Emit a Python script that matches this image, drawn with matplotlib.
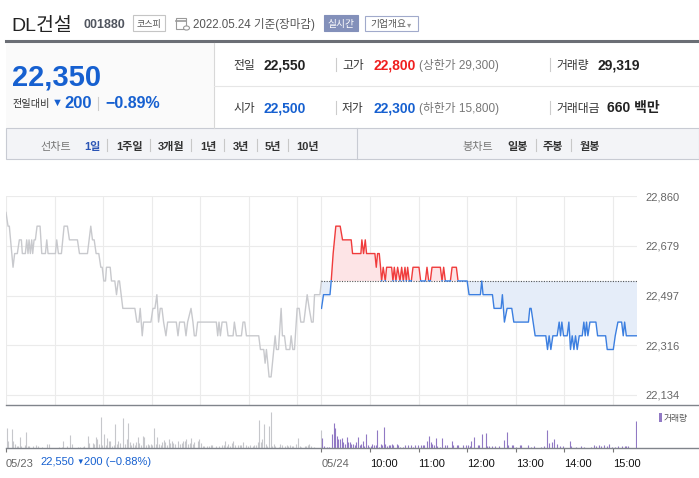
import matplotlib
matplotlib.use('Agg')
import matplotlib.pyplot as plt
import numpy as np
from matplotlib.patches import Rectangle, Circle
from matplotlib.lines import Line2D

plt.rcParams['font.family'] = ['Liberation Sans', 'Noto Sans CJK KR', 'DejaVu Sans']

W, H = 699, 478

# ---- data ----
price_ticks = [22134, 22316, 22497, 22679, 22860]
prev_close = 22550
session = 390  # minutes 09:00 - 15:30

# 05/23 : minutes after 09:00, price
day1_min = [0, 2.5, 4.1, 8.7, 10.7, 14.0, 16.5, 19.0, 20.2, 23.9, 25.6, 27.2, 28.5, 30.1,
            31.8, 33.0, 34.7, 36.3, 38.4, 42.1, 44.2, 48.7, 50.4, 52.0, 61.1, 62.7, 64.8,
            68.5, 71.8, 75.9, 78.4, 88.3, 90.8, 100.7, 104.8, 106.9, 109.0, 111.4, 114.7,
            117.2, 118.9, 120.9, 123.0, 124.2, 128.8, 130.4, 134.5, 136.6, 138.7, 140.3,
            144.4, 159.3, 161.8, 164.3, 165.9, 168.4, 170.0, 179.1, 181.6, 184.1, 186.5,
            188.6, 190.7, 192.8, 194.8, 197.7, 199.8, 210.5, 212.6, 214.6, 220.4, 222.5,
            224.5, 228.7, 231.1, 232.8, 234.9, 236.9, 260.0, 261.7, 263.3, 265.0, 267.1,
            272.4, 274.5, 280.7, 282.3, 284.8, 291.0, 293.0, 295.1, 297.2, 312.4, 314.5,
            318.6, 320.3, 321.9, 323.6, 325.2, 327.7, 332.7, 334.3, 336.8, 340.1, 341.7,
            344.2, 346.3, 350.8, 352.5, 354.5, 356.6, 359.9, 362.4, 364.4, 368.2, 372.3,
            374.8, 377.7, 379.7, 381.4, 388.0, 390.0]
day1_price = [22800, 22750, 22750, 22600, 22650, 22650, 22700, 22700, 22650, 22650, 22700,
              22650, 22700, 22650, 22700, 22650, 22700, 22700, 22750, 22750, 22650, 22650,
              22700, 22650, 22650, 22700, 22650, 22650, 22750, 22750, 22700, 22700, 22650,
              22650, 22750, 22700, 22700, 22650, 22650, 22600, 22600, 22550, 22550, 22600,
              22600, 22550, 22550, 22500, 22550, 22550, 22450, 22450, 22400, 22400, 22450,
              22350, 22400, 22400, 22450, 22450, 22500, 22400, 22450, 22450, 22400, 22350,
              22400, 22400, 22350, 22400, 22400, 22350, 22400, 22450, 22400, 22350, 22350,
              22400, 22400, 22350, 22400, 22350, 22400, 22400, 22350, 22350, 22400, 22350,
              22350, 22400, 22400, 22350, 22350, 22300, 22300, 22250, 22300, 22250, 22200,
              22200, 22350, 22300, 22300, 22450, 22350, 22350, 22300, 22300, 22350, 22300,
              22300, 22450, 22450, 22400, 22400, 22500, 22450, 22400, 22400, 22500, 22500,
              22550]

# 05/24 : minutes after 09:00, price
day2_min = [0, 2.5, 10.5, 12.0, 14.4, 17.7, 23.1, 26.0, 36.7, 38.4, 48.7, 49.9, 52.0, 54.1,
            55.7, 66.0, 67.7, 69.3, 71.4, 73.0, 74.3, 76.3, 78.8, 80.5, 86.7, 88.3, 90.0,
            92.0, 94.1, 97.0, 99.1, 101.1, 103.2, 104.8, 106.5, 108.5, 111.0, 113.1, 120.5,
            122.6, 128.4, 130.4, 132.5, 134.5, 136.6, 146.9, 149.0, 151.0, 153.1, 159.3,
            161.4, 166.7, 168.8, 180.0, 182.4, 196.4, 198.1, 199.7, 211.3, 213.3, 222.0,
            223.6, 226.1, 229.4, 235.2, 237.7, 255.8, 257.5, 259.1, 261.6, 264.1, 277.3,
            279.4, 281.4, 283.5, 286.0, 291.3, 293.8, 295.5, 297.1, 299.2, 303.7, 305.8,
            307.8, 309.9, 312.0, 314.0, 316.1, 318.6, 322.3, 324.3, 326.0, 327.6, 329.3,
            331.8, 339.2, 341.3, 351.2, 353.2, 360.7, 363.1, 366.4, 371.0, 373.0, 374.7,
            376.8, 390.0]
day2_price = [22450, 22500, 22500, 22550, 22650, 22750, 22750, 22700, 22700, 22650, 22650,
              22700, 22650, 22700, 22650, 22650, 22600, 22650, 22650, 22600, 22550, 22600,
              22550, 22600, 22600, 22550, 22600, 22550, 22600, 22550, 22600, 22550, 22600,
              22550, 22600, 22550, 22550, 22600, 22600, 22550, 22550, 22600, 22550, 22550,
              22600, 22600, 22550, 22600, 22550, 22550, 22600, 22600, 22550, 22550, 22500,
              22500, 22550, 22500, 22500, 22450, 22450, 22500, 22400, 22450, 22450, 22400,
              22400, 22450, 22450, 22400, 22350, 22350, 22300, 22350, 22300, 22350, 22350,
              22400, 22350, 22400, 22350, 22350, 22400, 22300, 22350, 22300, 22350, 22300,
              22350, 22350, 22400, 22350, 22400, 22350, 22400, 22400, 22350, 22350, 22300,
              22300, 22350, 22400, 22400, 22350, 22400, 22350, 22350]

# volume per 2-minute bar (195 bars a day)
day1_vol = [
    800, 290, 0, 770, 270, 160, 90, 90, 450, 80,
    0, 120, 650, 90, 90, 0, 80, 0, 120, 70,
    0, 0, 50, 0, 0, 170, 150, 0, 0, 0,
    0, 0, 50, 0, 50, 290, 0, 80, 0, 530,
    170, 0, 0, 0, 50, 50, 0, 50, 80, 0,
    490, 190, 0, 210, 160, 450, 360, 170, 1240, 120,
    550, 110, 410, 290, 270, 90, 110, 970, 150, 290,
    190, 0, 1200, 170, 360, 1010, 240, 120, 190, 120,
    240, 450, 190, 120, 490, 450, 120, 170, 110, 160,
    120, 810, 160, 450, 170, 120, 230, 320, 240, 120,
    350, 190, 280, 190, 170, 0, 290, 170, 200, 290,
    290, 350, 150, 190, 410, 160, 230, 0, 290, 370,
    190, 80, 80, 0, 90, 80, 120, 130, 0, 80,
    0, 90, 0, 110, 110, 290, 80, 150, 90, 190,
    270, 120, 0, 130, 120, 130, 230, 0, 120, 80,
    120, 0, 70, 110, 130, 240, 1130, 250, 350, 970,
    160, 80, 890, 1450, 70, 160, 80, 0, 50, 150,
    130, 0, 80, 130, 90, 120, 80, 80, 0, 170,
    410, 80, 50, 0, 90, 90, 110, 160, 80, 0,
    50, 0, 0, 0, 730,
]
day2_vol = [
    400, 90, 0, 50, 50, 0, 570, 1010, 810, 490,
    350, 350, 400, 230, 170, 450, 250, 230, 170, 170,
    120, 230, 450, 120, 170, 290, 70, 570, 120, 50,
    70, 170, 120, 120, 730, 50, 160, 120, 850, 170,
    90, 120, 120, 170, 120, 0, 170, 120, 50, 0,
    50, 120, 0, 120, 0, 120, 50, 120, 0, 120,
    0, 120, 120, 120, 0, 290, 490, 230, 170, 120,
    410, 70, 0, 50, 410, 0, 130, 120, 0, 0,
    270, 120, 0, 120, 120, 0, 0, 120, 0, 120,
    120, 80, 270, 0, 450, 0, 120, 120, 0, 550,
    0, 590, 90, 90, 0, 90, 0, 90, 0, 90,
    0, 0, 310, 0, 630, 120, 0, 120, 120, 0,
    50, 0, 120, 120, 0, 0, 0, 120, 0, 50,
    0, 90, 0, 0, 0, 50, 0, 90, 0, 710,
    210, 0, 230, 350, 0, 170, 0, 70, 0, 70,
    0, 0, 0, 270, 90, 0, 0, 50, 0, 0,
    90, 0, 50, 0, 0, 0, 50, 0, 130, 90,
    0, 120, 90, 0, 130, 0, 90, 160, 0, 50,
    0, 50, 0, 90, 0, 90, 0, 90, 90, 90,
    0, 0, 0, 0, 1070,
]

time_ticks = [-390, 0, 60, 120, 180, 240, 300, 360]
time_labels = ['05/23', '05/24', '10:00', '11:00', '12:00', '13:00', '14:00', '15:00']
grid_x = [-390, -330, -270, -210, -150, -90, -30, 0, 60, 120, 180, 240, 300, 360]

RED = '#f03c3c'
BLUE = '#3c7fe0'
NAVY = '#1660d0'

fig = plt.figure(figsize=(W / 100, H / 100), dpi=100)


def ftext(x, y, s, **kw):
    kw.setdefault('va', 'baseline')
    fig.text(x / W, 1 - y / H, s, **kw)


def hline(x0, x1, y, **kw):
    fig.add_artist(Line2D([x0 / W, x1 / W], [1 - y / H] * 2, transform=fig.transFigure, **kw))


def vline(x, y0, y1, **kw):
    fig.add_artist(Line2D([x / W] * 2, [1 - y0 / H, 1 - y1 / H], transform=fig.transFigure, **kw))


def box(x0, y0, x1, y1, **kw):
    fig.add_artist(Rectangle((x0 / W, 1 - y1 / H), (x1 - x0) / W, (y1 - y0) / H,
                             transform=fig.transFigure, **kw))


# ---- header ----
ftext(11, 31, 'DL건설', fontsize=14, color='#222222')
ftext(83, 28, '001880', fontsize=9, fontweight='bold', color='#50555f')
box(133, 15, 165, 31, facecolor='white', edgecolor='#c5c5c5', lw=0.8)
ftext(149, 27, '코스피', fontsize=6.5, color='#555555', ha='center')
box(176, 18, 186, 29, facecolor='white', edgecolor='#9a9a9a', lw=0.8)
hline(176, 186, 20.5, color='#9a9a9a', lw=1.2)
fig.add_artist(Circle((186.5 / W, 1 - 28 / H), 3.0 / W, transform=fig.transFigure,
                      facecolor='white', edgecolor='#9a9a9a', lw=0.8))
ftext(193, 28, '2022.05.24 기준(장마감)', fontsize=8.3, color='#555555')
box(324, 15, 358, 31, facecolor='#8390ba', edgecolor='#8390ba', lw=0.8)
ftext(341, 27.5, '실시간', fontsize=7, color='white', ha='center')
box(365, 16, 418, 31, facecolor='white', edgecolor='#a1aacb', lw=0.8)
ftext(370, 27.5, '기업개요', fontsize=7, color='#555555')
ftext(407, 27, '▾', fontsize=6, color='#9a9a9a')

hline(6, 699, 41, color='#6b6e75', lw=2.2)

# ---- summary ----
box(6, 42.5, 214, 128, facecolor='#fafafa', edgecolor='none')
vline(214, 42.5, 128, color='#d8d8d8', lw=0.8)
hline(214, 699, 85.5, color='#e6e6e6', lw=0.8)

ftext(12, 85, '22,350', fontsize=21, fontweight='bold', color=NAVY)
ftext(13, 107, '전일대비', fontsize=7.3, color='#333333')
ftext(52, 106, '▼', fontsize=8, color=NAVY)
ftext(64, 108, '200', fontsize=12, fontweight='bold', color=NAVY)
vline(98, 97, 110, color='#cccccc', lw=0.8)
ftext(105, 108, '−0.89%', fontsize=11.5, fontweight='bold', color=NAVY)

rows = [
    (69.5, [('전일', 233, '22,550', 263, '#222222', None),
            ('고가', 342, '22,800', 373, '#f01e1e', '(상한가 29,300)'),
            ('거래량', 556, '29,319', 597, '#222222', None)]),
    (112.5, [('시가', 233, '22,500', 263, NAVY, None),
             ('저가', 342, '22,300', 373, NAVY, '(하한가 15,800)'),
             ('거래대금', 556, '660 백만', 607, '#222222', None)]),
]
for yb, items in rows:
    for label, lx, value, vx, vcol, extra in items:
        ftext(lx, yb, label, fontsize=8.5, color='#333333')
        ftext(vx, yb, value, fontsize=10, fontweight='bold', color=vcol)
        if extra:
            ftext(419, yb, extra, fontsize=8.5, color='#777777')
    vline(336, yb - 11.5, yb + 1.5, color='#cccccc', lw=0.8)
    vline(550, yb - 11.5, yb + 1.5, color='#cccccc', lw=0.8)

# ---- tab bar ----
box(6, 128, 699, 159, facecolor='#f3f4f7', edgecolor='#c8cbd3', lw=0.8)
vline(357, 128, 159, color='#c8cbd3', lw=0.8)
ftext(40, 150, '선차트', fontsize=8, color='#777777')
ftext(84, 150, '1일', fontsize=8, fontweight='bold', color='#2b55b5')
tabs = [('1주일', 116), ('3개월', 158), ('1년', 200), ('3년', 233), ('5년', 265), ('10년', 296)]
for name, tx in tabs:
    ftext(tx, 150, name, fontsize=8, fontweight='bold', color='#333333')
for dx in [107, 150, 191, 224, 257, 288, 536, 571]:
    vline(dx, 139, 151, color='#c8c8c8', lw=0.8)
ftext(462, 150, '봉차트', fontsize=8, color='#777777')
for name, tx in [('일봉', 507), ('주봉', 543), ('월봉', 580)]:
    ftext(tx, 150, name, fontsize=8, fontweight='bold', color='#333333')

# ---- price chart ----
ax = fig.add_axes([6 / W, 1 - 405 / H, 631 / W, 209 / H])
won_per_px = (price_ticks[-1] - price_ticks[0]) / 199
ax.set_xlim(-session, session)
ax.set_ylim(price_ticks[0] - 10 * won_per_px, price_ticks[-1])
for s in ax.spines.values():
    s.set_visible(False)
ax.set_axisbelow(True)
ax.set_xticks(grid_x)
ax.set_xticklabels([])
ax.set_yticks(price_ticks)
ax.set_yticklabels([f'{v:,}' for v in price_ticks])
ax.yaxis.tick_right()
ax.tick_params(axis='both', length=0)
ax.tick_params(axis='y', pad=6, labelsize=8, labelcolor='#666666')
ax.grid(True, color='#ebebeb', lw=0.8)

x1 = np.array(day1_min) - session
ax.plot(x1, day1_price, color='#c8c9cd', lw=1.0)

m2 = np.array(day2_min)
p2 = np.array(day2_price)
ax.fill_between(m2, p2, prev_close, where=p2 >= prev_close, interpolate=True,
                color='#fde4e6', lw=0)
ax.fill_between(m2, p2, prev_close, where=p2 <= prev_close, interpolate=True,
                color='#e5edf9', lw=0)
ax.hlines(prev_close, 0, session, colors='#555555', linestyles=(0, (1, 1.3)), lw=0.8)
red_line, = ax.plot(m2, p2, color=RED, lw=1.0)
red_line.set_clip_path(Rectangle((0, prev_close + 5), session, 2000, transform=ax.transData))
blue_line, = ax.plot(m2, p2, color=BLUE, lw=1.0)
blue_line.set_clip_path(Rectangle((0, prev_close + 5 - 2000), session, 2000, transform=ax.transData))

# ---- volume ----
axv = fig.add_axes([6 / W, 1 - 448 / H, 631 / W, 43 / H])
axv.set_xlim(-session, session)
axv.set_ylim(0, 1720)
for s in axv.spines.values():
    s.set_visible(False)
bx1 = [2 * i + 1 - session for i in range(len(day1_vol))]
bx2 = [2 * i + 1 for i in range(len(day2_vol))]
axv.vlines(bx1, 0, day1_vol, colors='#c6c7cb', lw=0.8)
axv.vlines(bx2, 0, day2_vol, colors='#9179c4', lw=0.8)
axv.set_yticks([])
axv.set_xticks(time_ticks)
axv.set_xticklabels(time_labels)
axv.tick_params(axis='x', direction='out', length=3, width=0.8, color='#777777',
                pad=5, labelsize=8)
for i, lab in enumerate(axv.get_xticklabels()):
    lab.set_ha('left')
    lab.set_color('#666666' if i < 2 else '#111111')

hline(6, 699, 405, color='#80848b', lw=1.0)
hline(6, 699, 448, color='#80848b', lw=1.0)

ftext(40, 465, '22,550', fontsize=8, color=NAVY)
ftext(76, 464, '▼', fontsize=5.5, color=NAVY)
ftext(84, 465, '200 (−0.88%)', fontsize=8, color=NAVY)

box(659, 413, 662, 422, facecolor='#9179c4', edgecolor='none')
ftext(664, 421, '거래량', fontsize=6.3, color='#555555')

fig.savefig('out.png', dpi=100)
